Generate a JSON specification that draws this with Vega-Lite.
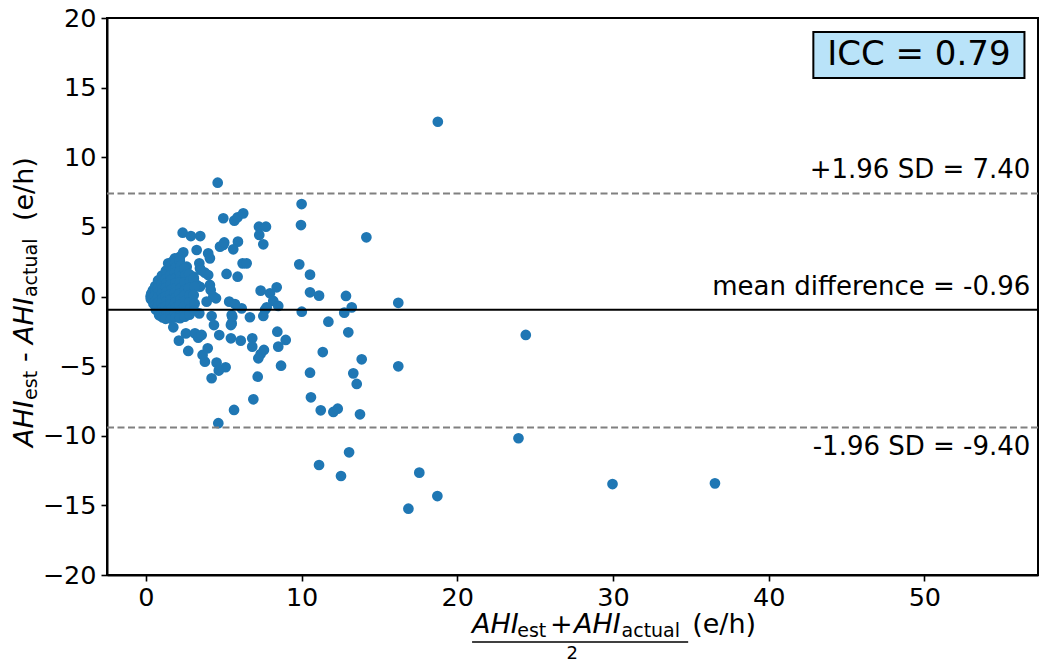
{
  "$schema": "https://vega.github.io/schema/vega-lite/v6.json",
  "width": 931,
  "height": 557,
  "autosize": {"type": "none"},
  "padding": {"left": 107, "top": 18, "right": 12, "bottom": 90},
  "background": "white",
  "data": {"values": [{"k": 1}]},
  "config": {
    "view": {"stroke": "#000000", "strokeWidth": 2},
    "font": "DejaVu Sans",
    "axis": {"grid": false, "domainColor": "#000000", "domainWidth": 2, "tickColor": "#000000", "tickWidth": 1.6, "tickSize": 6, "labelColor": "#000000", "labelFontSize": 25.5, "labelFont": "DejaVu Sans"}
  },
  "datasets": {
    "pts": [
      {"mean": 18.75, "diff": 12.55}, {"mean": 10.0, "diff": 6.64}, {"mean": 9.96, "diff": 5.13}, {"mean": 14.16, "diff": 4.25}, {"mean": 9.85, "diff": 2.31}, {"mean": 10.54, "diff": 1.57}, {"mean": 10.54, "diff": 0.30}, {"mean": 11.12, "diff": 0.06}, {"mean": 12.85, "diff": 0.04}, {"mean": 13.22, "diff": -0.78}, {"mean": 12.74, "diff": -1.16}, {"mean": 16.21, "diff": -0.45}, {"mean": 10.01, "diff": -1.09}, {"mean": 11.72, "diff": -1.81}, {"mean": 13.0, "diff": -2.57}, {"mean": 24.40, "diff": -2.76}, {"mean": 11.36, "diff": -3.99}, {"mean": 13.86, "diff": -4.51}, {"mean": 10.54, "diff": -5.47}, {"mean": 13.32, "diff": -5.52}, {"mean": 16.21, "diff": -5.01}, {"mean": 13.54, "diff": -6.28}, {"mean": 10.60, "diff": -7.24}, {"mean": 11.23, "diff": -8.17}, {"mean": 12.04, "diff": -8.29}, {"mean": 12.32, "diff": -8.06}, {"mean": 13.75, "diff": -8.46}, {"mean": 23.93, "diff": -10.18}, {"mean": 13.05, "diff": -11.19}, {"mean": 11.12, "diff": -12.10}, {"mean": 12.53, "diff": -12.89}, {"mean": 17.56, "diff": -12.65}, {"mean": 18.72, "diff": -14.33}, {"mean": 16.86, "diff": -15.24}, {"mean": 29.97, "diff": -13.47}, {"mean": 36.55, "diff": -13.42},
      {"mean": 4.61, "diff": 8.17}, {"mean": 4.97, "diff": 5.62}, {"mean": 5.68, "diff": 5.45}, {"mean": 5.89, "diff": 5.69}, {"mean": 6.25, "diff": 5.97}, {"mean": 7.26, "diff": 5.01}, {"mean": 7.71, "diff": 5.01}, {"mean": 7.28, "diff": 4.42}, {"mean": 7.54, "diff": 3.75}, {"mean": 5.91, "diff": 3.94}, {"mean": 5.61, "diff": 3.39}, {"mean": 4.97, "diff": 3.70}, {"mean": 4.76, "diff": 3.58}, {"mean": 5.03, "diff": 3.88}, {"mean": 6.21, "diff": 2.38}, {"mean": 6.47, "diff": 2.38}, {"mean": 5.18, "diff": 1.62}, {"mean": 5.89, "diff": 1.42}, {"mean": 7.37, "diff": 0.42}, {"mean": 7.97, "diff": 0.23}, {"mean": 8.40, "diff": 0.66}, {"mean": 8.18, "diff": -0.32}, {"mean": 8.50, "diff": -0.68}, {"mean": 7.76, "diff": -0.78}, {"mean": 7.65, "diff": -0.95}, {"mean": 7.54, "diff": -1.40}, {"mean": 6.68, "diff": -1.49}, {"mean": 6.15, "diff": -0.85}, {"mean": 5.35, "diff": -0.37}, {"mean": 5.72, "diff": -0.54}, {"mean": 5.51, "diff": -1.33}, {"mean": 5.51, "diff": -1.93}, {"mean": 4.50, "diff": -0.13}, {"mean": 4.16, "diff": 0.47}, {"mean": 4.33, "diff": -0.01}, {"mean": 4.22, "diff": -1.40}, {"mean": 4.37, "diff": -2.05}, {"mean": 4.71, "diff": -2.77}, {"mean": 5.46, "diff": -3.0}, {"mean": 6.09, "diff": -3.17}, {"mean": 5.46, "diff": -2.05}, {"mean": 5.55, "diff": -1.45}, {"mean": 6.83, "diff": -3.0}, {"mean": 6.83, "diff": -3.60}, {"mean": 7.58, "diff": -3.84}, {"mean": 7.37, "diff": -4.13}, {"mean": 7.22, "diff": -4.44}, {"mean": 7.18, "diff": -5.76}, {"mean": 6.90, "diff": -7.38}, {"mean": 5.66, "diff": -8.15}, {"mean": 4.65, "diff": -9.10}, {"mean": 8.44, "diff": -2.53}, {"mean": 8.98, "diff": -3.12}, {"mean": 8.50, "diff": -3.60}, {"mean": 8.68, "diff": -4.97}, {"mean": 4.22, "diff": -5.87}, {"mean": 4.54, "diff": -4.75}, {"mean": 5.12, "diff": -5.08}, {"mean": 4.68, "diff": -5.32}, {"mean": 3.79, "diff": -4.68}, {"mean": 3.64, "diff": -4.20}, {"mean": 3.97, "diff": -3.72}, {"mean": 2.72, "diff": -3.91}, {"mean": 2.12, "diff": -3.17}, {"mean": 1.76, "diff": -2.21}, {"mean": 2.57, "diff": -2.65}, {"mean": 3.15, "diff": -2.65}, {"mean": 3.36, "diff": -2.96}, {"mean": 3.58, "diff": -2.76}, {"mean": 3.43, "diff": -1.21}, {"mean": 3.90, "diff": -0.37},
      {"mean": 2.36, "diff": 4.58}, {"mean": 2.89, "diff": 4.34}, {"mean": 3.49, "diff": 4.34}, {"mean": 3.26, "diff": 3.34}, {"mean": 2.40, "diff": 3.17}, {"mean": 2.19, "diff": 2.86}, {"mean": 2.08, "diff": 2.74}, {"mean": 1.43, "diff": 2.38}, {"mean": 3.43, "diff": 2.38}, {"mean": 3.47, "diff": 2.03}, {"mean": 4.0, "diff": 3.10}, {"mean": 4.11, "diff": 2.74}, {"mean": 4.0, "diff": 1.54}, {"mean": 3.79, "diff": 1.71}, {"mean": 3.04, "diff": 1.42}, {"mean": 1.86, "diff": 2.74}, {"mean": 2.62, "diff": 2.14}, {"mean": 3.26, "diff": 0.83}, {"mean": 4.11, "diff": 0.83}, {"mean": 3.47, "diff": 0.70}, {"mean": 3.52, "diff": 1.90}, {"mean": 1.7, "diff": 2.5}, {"mean": 1.55, "diff": 2.2},
      {"mean": 0.3, "diff": 0.0}, {"mean": 0.32, "diff": -0.2}, {"mean": 0.34, "diff": 0.2},
      {"mean": 0.45, "diff": 0.45}, {"mean": 0.47, "diff": 0.12}, {"mean": 0.44, "diff": -0.2}, {"mean": 0.48, "diff": -0.5},
      {"mean": 0.6, "diff": 0.75}, {"mean": 0.62, "diff": 0.4}, {"mean": 0.58, "diff": 0.05}, {"mean": 0.63, "diff": -0.3}, {"mean": 0.6, "diff": -0.65}, {"mean": 0.64, "diff": -0.95},
      {"mean": 0.78, "diff": 1.15}, {"mean": 0.83, "diff": 0.9}, {"mean": 0.77, "diff": 0.6}, {"mean": 0.82, "diff": 0.3}, {"mean": 0.79, "diff": -0.04}, {"mean": 0.84, "diff": -0.38}, {"mean": 0.76, "diff": -0.74}, {"mean": 0.81, "diff": -1.1}, {"mean": 0.85, "diff": -1.35},
      {"mean": 1.03, "diff": 1.5}, {"mean": 1.08, "diff": 1.2}, {"mean": 1.02, "diff": 0.9}, {"mean": 1.07, "diff": 0.6}, {"mean": 1.04, "diff": 0.24}, {"mean": 1.09, "diff": -0.1}, {"mean": 1.01, "diff": -0.46}, {"mean": 1.06, "diff": -0.82}, {"mean": 1.03, "diff": -1.16}, {"mean": 1.08, "diff": -1.5},
      {"mean": 1.28, "diff": 1.85}, {"mean": 1.33, "diff": 1.55}, {"mean": 1.27, "diff": 1.25}, {"mean": 1.32, "diff": 0.95}, {"mean": 1.29, "diff": 0.65}, {"mean": 1.34, "diff": 0.34}, {"mean": 1.26, "diff": 0.0}, {"mean": 1.31, "diff": -0.36}, {"mean": 1.28, "diff": -0.7}, {"mean": 1.33, "diff": -1.04}, {"mean": 1.3, "diff": -1.35}, {"mean": 1.27, "diff": -1.6},
      {"mean": 1.58, "diff": 2.15}, {"mean": 1.63, "diff": 1.85}, {"mean": 1.57, "diff": 1.5}, {"mean": 1.62, "diff": 1.2}, {"mean": 1.59, "diff": 0.86}, {"mean": 1.64, "diff": 0.5}, {"mean": 1.56, "diff": 0.14}, {"mean": 1.61, "diff": -0.22}, {"mean": 1.58, "diff": -0.56}, {"mean": 1.63, "diff": -0.9}, {"mean": 1.57, "diff": -1.26}, {"mean": 1.62, "diff": -1.6},
      {"mean": 1.88, "diff": 2.4}, {"mean": 1.93, "diff": 2.1}, {"mean": 1.87, "diff": 1.7}, {"mean": 1.92, "diff": 1.32}, {"mean": 1.89, "diff": 0.96}, {"mean": 1.94, "diff": 0.6}, {"mean": 1.86, "diff": 0.26}, {"mean": 1.91, "diff": -0.1}, {"mean": 1.88, "diff": -0.44}, {"mean": 1.93, "diff": -0.8}, {"mean": 1.87, "diff": -1.16}, {"mean": 1.92, "diff": -1.5},
      {"mean": 2.18, "diff": 2.55}, {"mean": 2.23, "diff": 2.2}, {"mean": 2.17, "diff": 1.8}, {"mean": 2.22, "diff": 1.42}, {"mean": 2.19, "diff": 1.02}, {"mean": 2.24, "diff": 0.6}, {"mean": 2.16, "diff": 0.2}, {"mean": 2.21, "diff": -0.2}, {"mean": 2.18, "diff": -0.6}, {"mean": 2.23, "diff": -1.0}, {"mean": 2.17, "diff": -1.4}, {"mean": 2.2, "diff": -1.55},
      {"mean": 2.48, "diff": 2.0}, {"mean": 2.53, "diff": 1.52}, {"mean": 2.47, "diff": 1.02}, {"mean": 2.52, "diff": 0.5}, {"mean": 2.49, "diff": 0.1}, {"mean": 2.54, "diff": -0.3}, {"mean": 2.46, "diff": -0.7}, {"mean": 2.51, "diff": -1.1}, {"mean": 2.5, "diff": -1.45},
      {"mean": 2.78, "diff": 1.6}, {"mean": 2.83, "diff": 1.1}, {"mean": 2.77, "diff": 0.6}, {"mean": 2.82, "diff": 0.1}, {"mean": 2.79, "diff": -0.4}, {"mean": 2.84, "diff": -0.9}, {"mean": 2.8, "diff": -1.3},
      {"mean": 3.08, "diff": 1.3}, {"mean": 3.12, "diff": 0.7}, {"mean": 3.07, "diff": 0.1}, {"mean": 3.13, "diff": -0.5}, {"mean": 3.1, "diff": -1.0}
    ]
  },
  "layer": [
    {
      "data": {"name": "pts"},
      "mark": {"type": "circle", "size": 115, "color": "#1f77b4", "opacity": 1},
      "encoding": {
        "x": {"field": "mean", "type": "quantitative", "scale": {"domain": [-2.5, 57.3], "nice": false, "zero": false}, "axis": {"values": [0, 10, 20, 30, 40, 50], "title": null, "labelPadding": 4}},
        "y": {"field": "diff", "type": "quantitative", "scale": {"domain": [-20, 20], "nice": false, "zero": false}, "axis": {"values": [-20, -15, -10, -5, 0, 5, 10, 15, 20], "title": null, "labelPadding": 5}}
      }
    },
    {"mark": {"type": "rule", "color": "#808080", "strokeWidth": 2, "strokeDash": [7, 3.5]}, "encoding": {"y": {"datum": 7.4, "type": "quantitative"}}},
    {"mark": {"type": "rule", "color": "#808080", "strokeWidth": 2, "strokeDash": [7, 3.5]}, "encoding": {"y": {"datum": -9.4, "type": "quantitative"}}},
    {"mark": {"type": "rule", "color": "#000000", "strokeWidth": 2}, "encoding": {"y": {"datum": -0.96, "type": "quantitative"}}},
    {"mark": {"type": "text", "align": "right", "baseline": "alphabetic", "fontSize": 26, "font": "DejaVu Sans", "color": "#000000", "text": "+1.96 SD = 7.40"}, "encoding": {"x": {"datum": 56.81, "type": "quantitative"}, "y": {"datum": 8.51, "type": "quantitative"}}},
    {"mark": {"type": "text", "align": "right", "baseline": "alphabetic", "fontSize": 26, "font": "DejaVu Sans", "color": "#000000", "text": "mean difference = -0.96"}, "encoding": {"x": {"datum": 56.81, "type": "quantitative"}, "y": {"datum": 0.11, "type": "quantitative"}}},
    {"mark": {"type": "text", "align": "right", "baseline": "alphabetic", "fontSize": 26, "font": "DejaVu Sans", "color": "#000000", "text": "-1.96 SD = -9.40"}, "encoding": {"x": {"datum": 56.81, "type": "quantitative"}, "y": {"datum": -11.38, "type": "quantitative"}}},
    {"mark": {"type": "rect", "fill": "#b9e3f9", "stroke": "#000000", "strokeWidth": 2}, "encoding": {"x": {"datum": 42.87, "type": "quantitative"}, "x2": {"datum": 56.43}, "y": {"datum": 18.99, "type": "quantitative"}, "y2": {"datum": 15.69}}},
    {"mark": {"type": "text", "align": "center", "baseline": "middle", "fontSize": 34, "font": "DejaVu Sans", "color": "#000000", "text": "ICC = 0.79"}, "encoding": {"x": {"datum": 49.65, "type": "quantitative"}, "y": {"datum": 17.34, "type": "quantitative"}}},
    {"mark": {"type": "text", "align": "left", "baseline": "alphabetic", "fontSize": 27, "font": "DejaVu Sans", "fontStyle": "italic", "color": "#000000", "text": "AHI"}, "encoding": {"x": {"datum": 20.95, "type": "quantitative"}, "y": {"datum": -24.16, "type": "quantitative"}}},
    {"mark": {"type": "text", "align": "left", "baseline": "alphabetic", "fontSize": 19, "font": "DejaVu Sans", "color": "#000000", "text": "est"}, "encoding": {"x": {"datum": 23.85, "type": "quantitative"}, "y": {"datum": -24.45, "type": "quantitative"}}},
    {"mark": {"type": "text", "align": "left", "baseline": "alphabetic", "fontSize": 27, "font": "DejaVu Sans", "color": "#000000", "text": "+"}, "encoding": {"x": {"datum": 25.95, "type": "quantitative"}, "y": {"datum": -24.16, "type": "quantitative"}}},
    {"mark": {"type": "text", "align": "left", "baseline": "alphabetic", "fontSize": 27, "font": "DejaVu Sans", "fontStyle": "italic", "color": "#000000", "text": "AHI"}, "encoding": {"x": {"datum": 27.5, "type": "quantitative"}, "y": {"datum": -24.16, "type": "quantitative"}}},
    {"mark": {"type": "text", "align": "left", "baseline": "alphabetic", "fontSize": 19, "font": "DejaVu Sans", "color": "#000000", "text": "actual"}, "encoding": {"x": {"datum": 30.55, "type": "quantitative"}, "y": {"datum": -24.45, "type": "quantitative"}}},
    {"mark": {"type": "text", "align": "left", "baseline": "alphabetic", "fontSize": 27, "font": "DejaVu Sans", "color": "#000000", "text": "(e/h)"}, "encoding": {"x": {"datum": 35.09, "type": "quantitative"}, "y": {"datum": -24.16, "type": "quantitative"}}},
    {"mark": {"type": "rule", "color": "#000000", "strokeWidth": 1.5}, "encoding": {"x": {"datum": 20.95, "type": "quantitative"}, "x2": {"datum": 34.83}, "y": {"datum": -24.81, "type": "quantitative"}}},
    {"mark": {"type": "text", "align": "center", "baseline": "alphabetic", "fontSize": 18, "font": "DejaVu Sans", "color": "#000000", "text": "2"}, "encoding": {"x": {"datum": 27.38, "type": "quantitative"}, "y": {"datum": -26.0, "type": "quantitative"}}},
    {"mark": {"type": "text", "align": "left", "baseline": "alphabetic", "angle": 270, "fontSize": 27, "font": "DejaVu Sans", "fontStyle": "italic", "color": "#000000", "text": "AHI"}, "encoding": {"x": {"datum": -7.26, "type": "quantitative"}, "y": {"datum": -10.81, "type": "quantitative"}}},
    {"mark": {"type": "text", "align": "left", "baseline": "alphabetic", "angle": 270, "fontSize": 19, "font": "DejaVu Sans", "color": "#000000", "text": "est"}, "encoding": {"x": {"datum": -7.0, "type": "quantitative"}, "y": {"datum": -7.43, "type": "quantitative"}}},
    {"mark": {"type": "text", "align": "left", "baseline": "alphabetic", "angle": 270, "fontSize": 27, "font": "DejaVu Sans", "color": "#000000", "text": "-"}, "encoding": {"x": {"datum": -7.26, "type": "quantitative"}, "y": {"datum": -4.7, "type": "quantitative"}}},
    {"mark": {"type": "text", "align": "left", "baseline": "alphabetic", "angle": 270, "fontSize": 27, "font": "DejaVu Sans", "fontStyle": "italic", "color": "#000000", "text": "AHI"}, "encoding": {"x": {"datum": -7.26, "type": "quantitative"}, "y": {"datum": -3.41, "type": "quantitative"}}},
    {"mark": {"type": "text", "align": "left", "baseline": "alphabetic", "angle": 270, "fontSize": 19, "font": "DejaVu Sans", "color": "#000000", "text": "actual"}, "encoding": {"x": {"datum": -7.0, "type": "quantitative"}, "y": {"datum": -0.04, "type": "quantitative"}}},
    {"mark": {"type": "text", "align": "left", "baseline": "alphabetic", "angle": 270, "fontSize": 27, "font": "DejaVu Sans", "color": "#000000", "text": "(e/h)"}, "encoding": {"x": {"datum": -7.26, "type": "quantitative"}, "y": {"datum": 5.42, "type": "quantitative"}}}
  ]
}
